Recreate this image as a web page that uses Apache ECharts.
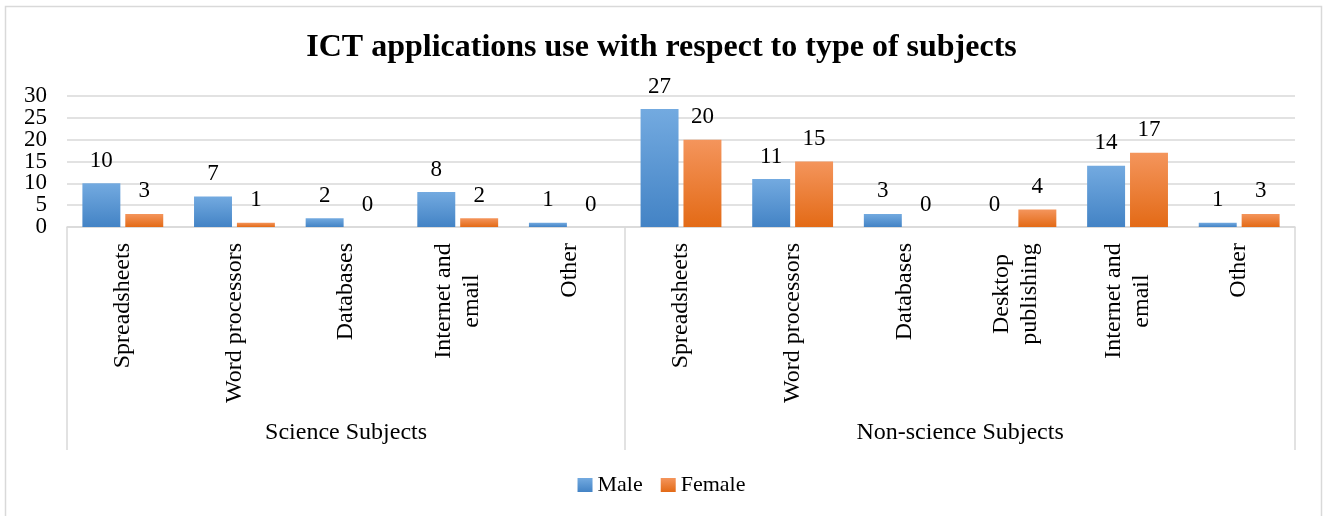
<!DOCTYPE html>
<html>
<head>
<meta charset="utf-8">
<script src="https://cdn.jsdelivr.net/npm/echarts@6/dist/echarts.min.js"></script>
<style>
  html, body { margin: 0; padding: 0; background: #fff; }
  #chart { width: 1323px; height: 516px; }
</style>
</head>
<body>
<div id="chart"></div>
<script>
// Applications, grouped by subject type
const categories = [
  'Spreadsheets', 'Word processors', 'Databases', 'Internet and\nemail', 'Other',
  'Spreadsheets', 'Word processors', 'Databases', 'Desktop\npublishing', 'Internet and\nemail', 'Other'
];
const groups = ['Science Subjects', 'Non-science Subjects'];
const groupSizes = [5, 6];
const male = [10, 7, 2, 8, 1, 27, 11, 3, 0, 14, 1];
const female = [3, 1, 0, 2, 0, 20, 15, 0, 4, 17, 3];
const yTicks = [0, 5, 10, 15, 20, 25, 30];

const FONT = '"Liberation Serif", "Times New Roman", serif';
const GRID = '#d9d9d9';
const CAT_SIZE = 24;

// group boundaries and centres on a 0..N value scale
const bounds = [0];
groupSizes.forEach(s => bounds.push(bounds[bounds.length - 1] + s));
const centres = groupSizes.map((s, i) => bounds[i] + s / 2);

// multi-line labels: every line gets the width of the longest one so lines centre on each other
const ctx = document.createElement('canvas').getContext('2d');
ctx.font = CAT_SIZE + 'px ' + FONT;
const lineWidth = v => Math.ceil(Math.max(...v.split('\n').map(l => ctx.measureText(l).width)));
const rich = {};
categories.forEach(v => {
  if (v.indexOf('\n') < 0) return;
  const w = lineWidth(v);
  rich['c' + w] = { width: w, align: 'center', fontSize: CAT_SIZE, fontFamily: FONT, color: '#000', lineHeight: 28 };
});
function catLabel(v) {
  if (v.indexOf('\n') < 0) return v;
  const w = lineWidth(v);
  return v.split('\n').map(l => '{c' + w + '|' + l + '}').join('\n');
}

function grad(top, bottom) {
  return new echarts.graphic.LinearGradient(0, 0, 0, 1, [
    { offset: 0, color: top }, { offset: 1, color: bottom }
  ]);
}

const valueLabel = { show: true, position: 'top', distance: 11, fontSize: 23, fontFamily: FONT, color: '#000' };

const chart = echarts.init(document.getElementById('chart'), null, { renderer: 'canvas' });
chart.setOption({
  animation: false,
  textStyle: { fontFamily: FONT, color: '#000' },
  graphic: [{
    type: 'rect', silent: true, z: -1,
    shape: { x: 5.5, y: 6.5, width: 1316, height: 520 },
    style: { fill: 'none', stroke: GRID, lineWidth: 1.5 }
  }],
  title: {
    text: 'ICT applications use with respect to type of subjects',
    left: 'center', top: 27,
    textStyle: { fontFamily: FONT, fontSize: 32, fontWeight: 'bold', color: '#000' }
  },
  legend: {
    top: 469, left: 'center',
    icon: 'rect', itemWidth: 15, itemHeight: 14, itemGap: 18,
    textStyle: { fontFamily: FONT, fontSize: 22, color: '#000' },
    data: ['Male', 'Female']
  },
  grid: { left: 67, right: 28, top: 96, bottom: 289, containLabel: false },
  xAxis: [{
    type: 'category',
    data: categories,
    axisLine: { show: true, lineStyle: { color: GRID, width: 1.5 } },
    axisTick: { show: false },
    axisLabel: {
      rotate: 90, interval: 0, margin: 16,
      fontSize: CAT_SIZE, fontFamily: FONT, color: '#000', lineHeight: 28,
      formatter: catLabel, rich: rich
    }
  }, {
    type: 'value',
    min: 0, max: bounds[bounds.length - 1],
    position: 'bottom',
    axisLine: { show: false },
    splitLine: { show: false },
    axisTick: {
      show: true, customValues: bounds, length: 223, inside: false,
      lineStyle: { color: GRID, width: 1.5 }
    },
    axisLabel: {
      customValues: centres, margin: 194,
      fontSize: CAT_SIZE, fontFamily: FONT, color: '#000',
      formatter: v => groups[centres.indexOf(v)] || ''
    }
  }],
  yAxis: [{
    // value scale for the bars and gridlines
    type: 'value', min: yTicks[0], max: yTicks[yTicks.length - 1], interval: 5,
    axisLine: { show: false }, axisTick: { show: false },
    splitLine: { lineStyle: { color: GRID, width: 1.5 } },
    axisLabel: { show: false }
  }, {
    // tick labels, evenly spaced on the same span so every one stays visible
    type: 'category', boundaryGap: false, position: 'left',
    data: yTicks.map(String),
    axisLine: { show: false }, axisTick: { show: false }, splitLine: { show: false },
    axisLabel: { interval: 0, margin: 20, fontSize: 23, fontFamily: FONT, color: '#000' }
  }],
  series: [{
    name: 'Male', type: 'bar', data: male,
    barWidth: '34%', barGap: '13%',
    itemStyle: { color: grad('#73aae0', '#4383c5') },
    label: valueLabel
  }, {
    name: 'Female', type: 'bar', data: female,
    barWidth: '34%', barGap: '13%',
    itemStyle: { color: grad('#f4955c', '#e36a16') },
    label: valueLabel
  }]
});
</script>
</body>
</html>
